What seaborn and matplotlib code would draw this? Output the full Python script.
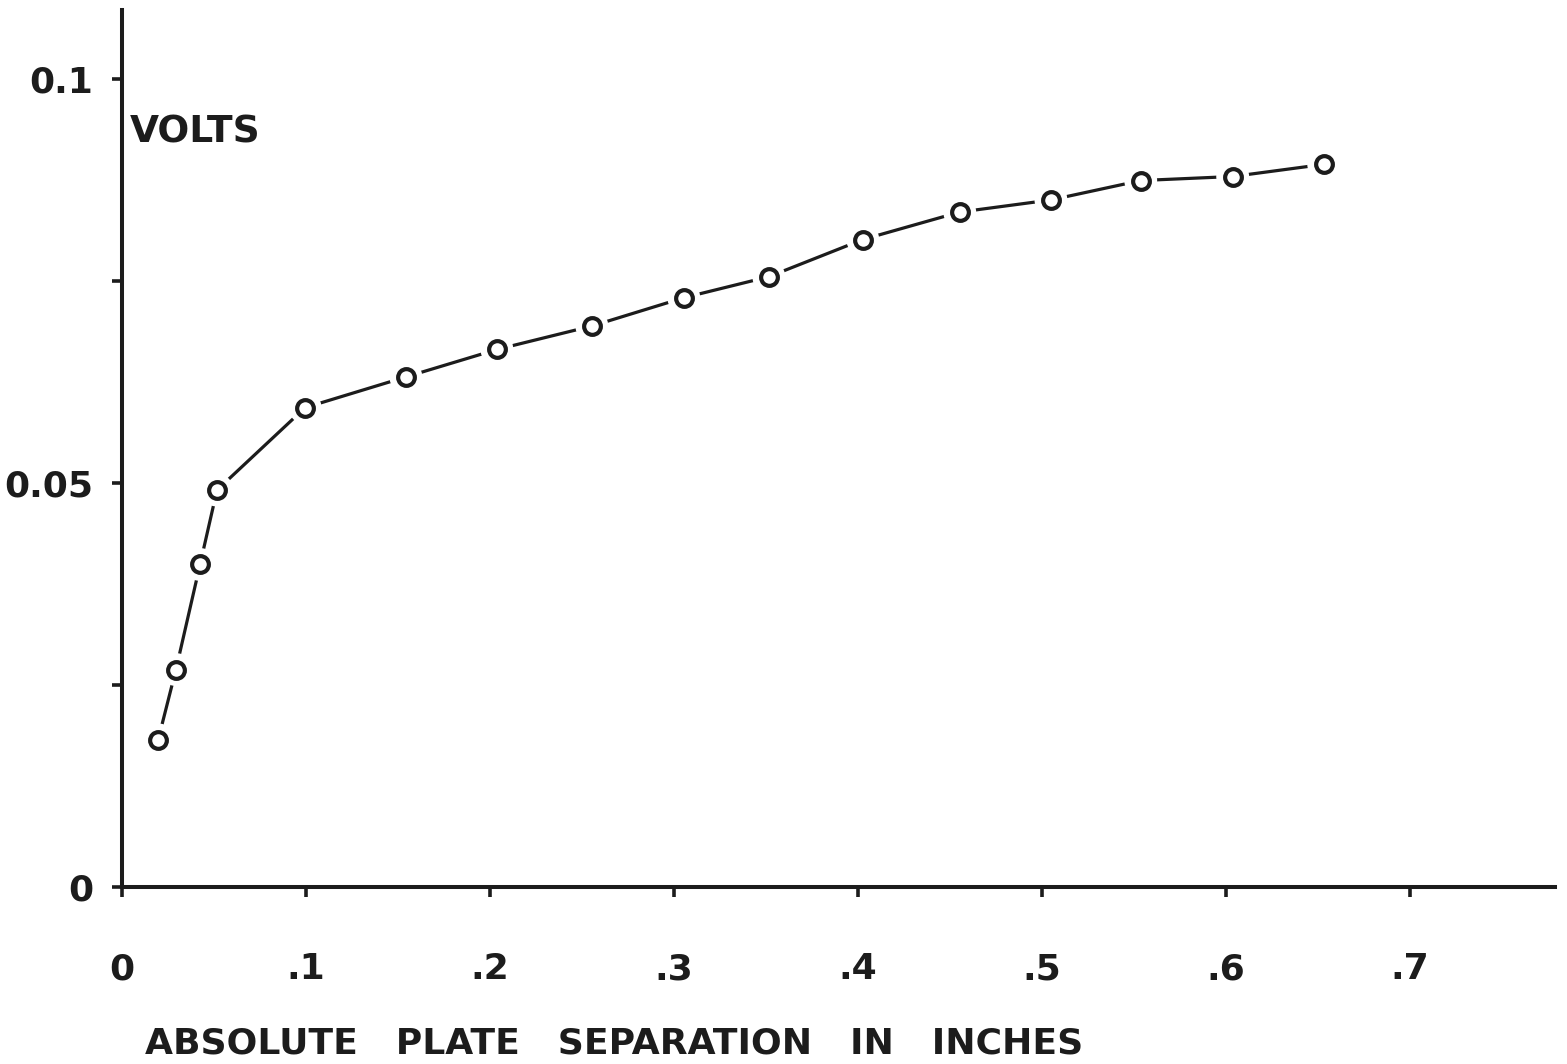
import matplotlib
matplotlib.use("Agg")
import matplotlib.pyplot as plt
import seaborn as sns
import pandas as pd

separation = [0.0196, 0.0293, 0.0424, 0.0516, 0.0995, 0.1543, 0.2038, 0.2554,
              0.3054, 0.3516, 0.4027, 0.4554, 0.5050, 0.5538, 0.6038, 0.6533]
volts = [0.0182, 0.0269, 0.0399, 0.0491, 0.0593, 0.0631, 0.0665, 0.0694,
         0.0729, 0.0755, 0.0801, 0.0835, 0.0850, 0.0874, 0.0879, 0.0894]
x_ticks = [0, 0.1, 0.2, 0.3, 0.4, 0.5, 0.6, 0.7]
x_tick_labels = ["0", ".1", ".2", ".3", ".4", ".5", ".6", ".7"]
y_ticks = [0, 0.025, 0.05, 0.075, 0.1]
y_tick_labels = ["0", "", "0.05", "", "0.1"]

df = pd.DataFrame({"sep": separation, "volts": volts})

sns.set_theme(style="white")
plt.rcParams["font.family"] = ["DejaVu Sans"]
ink = "#1c1c1c"

fig = plt.figure(figsize=(15.67, 10.64), dpi=100)
ax = fig.add_axes([0.0779, 0.1664, 0.9144, 0.8242])

sns.lineplot(data=df, x="sep", y="volts", ax=ax, color=ink, linewidth=2.3, zorder=2)
sns.scatterplot(data=df, x="sep", y="volts", ax=ax, s=560, color="white",
                edgecolor="none", linewidth=0, zorder=3)
sns.scatterplot(data=df, x="sep", y="volts", ax=ax, s=145, color="white",
                edgecolor=ink, linewidth=3.0, zorder=4)

ax.set_xlim(0, 0.779)
ax.set_ylim(0, 0.1085)
ax.set_xticks(x_ticks)
ax.set_xticklabels(x_tick_labels)
ax.set_yticks(y_ticks)
ax.set_yticklabels(y_tick_labels)

for side in ["top", "right"]:
    ax.spines[side].set_visible(False)
for side in ["left", "bottom"]:
    ax.spines[side].set_linewidth(2.9)
    ax.spines[side].set_color(ink)

ax.tick_params(axis="x", bottom=True, direction="out", length=7, width=2.6, color=ink,
               pad=40, labelsize=26, labelcolor=ink)
ax.tick_params(axis="y", left=True, direction="out", length=7, width=2.6, color=ink,
               pad=14, labelsize=26, labelcolor=ink)
for lab in ax.get_xticklabels() + ax.get_yticklabels():
    lab.set_fontweight("bold")

ax.set_xlabel("ABSOLUTE   PLATE   SEPARATION   IN   INCHES", fontsize=26,
              fontweight="bold", color=ink)
ax.xaxis.set_label_coords(0.016, -0.178)
ax.xaxis.label.set_horizontalalignment("left")
ax.xaxis.label.set_verticalalignment("center")
ax.set_ylabel("")
ax.text(0.004, 0.0934, "VOLTS", fontsize=27, fontweight="bold", color=ink,
        ha="left", va="center")

fig.savefig("out.png", dpi=100, facecolor="white")
